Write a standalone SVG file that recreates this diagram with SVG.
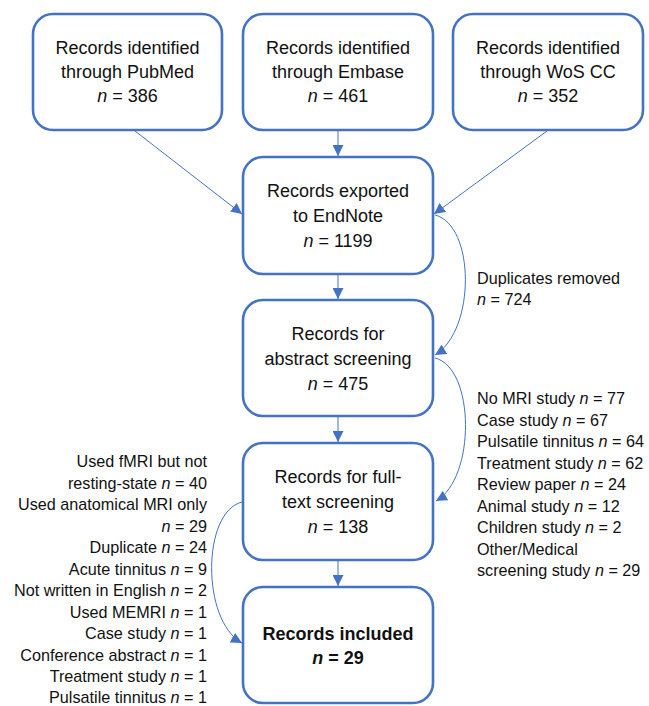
<svg xmlns="http://www.w3.org/2000/svg" width="649" height="706" viewBox="0 0 649 706">
<defs>
<style>
.box{fill:#fff;stroke:#4472C4;stroke-width:2.6}
.t{font-family:"Liberation Sans",Arial,sans-serif;font-size:18px;fill:#111;text-anchor:middle}
.s{font-family:"Liberation Sans",Arial,sans-serif;font-size:16.2px;fill:#111}
.r{text-anchor:end}
.c{fill:none;stroke:#4472C4;stroke-width:1}
</style>
<marker id="ah" viewBox="0 0 10 10" refX="10" refY="5" markerWidth="11" markerHeight="11" markerUnits="userSpaceOnUse" orient="auto">
<path d="M0,0 L10,5 L0,10 z" fill="#4472C4"/>
</marker>
</defs>
<rect width="649" height="706" fill="#fff"/>
<g id="connectors">
<line class="c" x1="135" y1="131" x2="242" y2="214" marker-end="url(#ah)"/>
<line class="c" x1="338" y1="131" x2="338" y2="156" marker-end="url(#ah)"/>
<line class="c" x1="547" y1="131" x2="434" y2="214" marker-end="url(#ah)"/>
<line class="c" x1="338" y1="275" x2="338" y2="299" marker-end="url(#ah)"/>
<line class="c" x1="338" y1="417" x2="338" y2="442" marker-end="url(#ah)"/>
<line class="c" x1="338" y1="561" x2="338" y2="586" marker-end="url(#ah)"/>
<path class="c" d="M435,215 C475,225 476,330 435,355" marker-end="url(#ah)"/>
<path class="c" d="M435,358 C475,368 476,478 436,501" marker-end="url(#ah)"/>
<path class="c" d="M242,502 C202,512 201,620 242,643" marker-end="url(#ah)"/>
</g>
<g id="pubmed">
<rect class="box" x="33" y="14" width="189" height="116" rx="20"/>
<text class="t" x="127.5" y="54">Records identified</text>
<text class="t" x="127.5" y="78">through PubMed</text>
<text class="t" x="127.5" y="102"><tspan font-style="italic">n</tspan> = 386</text>
</g>
<g id="embase">
<rect class="box" x="243" y="14" width="190" height="116" rx="20"/>
<text class="t" x="338" y="54">Records identified</text>
<text class="t" x="338" y="78">through Embase</text>
<text class="t" x="338" y="102"><tspan font-style="italic">n</tspan> = 461</text>
</g>
<g id="wos">
<rect class="box" x="453" y="14" width="190" height="116" rx="20"/>
<text class="t" x="548" y="54">Records identified</text>
<text class="t" x="548" y="78">through WoS CC</text>
<text class="t" x="548" y="102"><tspan font-style="italic">n</tspan> = 352</text>
</g>
<g id="endnote">
<rect class="box" x="243" y="157" width="190" height="117" rx="20"/>
<text class="t" x="338" y="197">Records exported</text>
<text class="t" x="338" y="222">to EndNote</text>
<text class="t" x="338" y="247"><tspan font-style="italic">n</tspan> = 1199</text>
</g>
<g id="abstract">
<rect class="box" x="243" y="300" width="190" height="116" rx="20"/>
<text class="t" x="338" y="340">Records for</text>
<text class="t" x="338" y="365">abstract screening</text>
<text class="t" x="338" y="390"><tspan font-style="italic">n</tspan> = 475</text>
</g>
<g id="fulltext">
<rect class="box" x="243" y="443" width="190" height="117" rx="20"/>
<text class="t" x="338" y="483">Records for full-</text>
<text class="t" x="338" y="508">text screening</text>
<text class="t" x="338" y="533"><tspan font-style="italic">n</tspan> = 138</text>
</g>
<g id="included">
<rect class="box" x="243" y="587" width="190" height="116" rx="20"/>
<text class="t" x="338" y="640" font-weight="bold">Records included</text>
<text class="t" x="338" y="664" font-weight="bold"><tspan font-style="italic">n</tspan> = 29</text>
</g>
<g id="duplicates">
<text class="s" x="477" y="284">Duplicates removed</text>
<text class="s" x="477" y="305"><tspan font-style="italic">n</tspan> = 724</text>
</g>
<g id="abstract-excl">
<text class="s" x="477" y="404">No MRI study <tspan font-style="italic">n</tspan> = 77</text>
<text class="s" x="477" y="425.5">Case study <tspan font-style="italic">n</tspan> = 67</text>
<text class="s" x="477" y="447">Pulsatile tinnitus <tspan font-style="italic">n</tspan> = 64</text>
<text class="s" x="477" y="468.5">Treatment study <tspan font-style="italic">n</tspan> = 62</text>
<text class="s" x="477" y="490">Review paper <tspan font-style="italic">n</tspan> = 24</text>
<text class="s" x="477" y="511.5">Animal study <tspan font-style="italic">n</tspan> = 12</text>
<text class="s" x="477" y="533">Children study <tspan font-style="italic">n</tspan> = 2</text>
<text class="s" x="477" y="554.5">Other/Medical</text>
<text class="s" x="477" y="576">screening study <tspan font-style="italic">n</tspan> = 29</text>
</g>
<g id="fulltext-excl">
<text class="s r" x="207" y="467">Used fMRI but not</text>
<text class="s r" x="207" y="488.5">resting-state <tspan font-style="italic">n</tspan> = 40</text>
<text class="s r" x="207" y="510">Used anatomical MRI only</text>
<text class="s r" x="207" y="531.5"><tspan font-style="italic">n</tspan> = 29</text>
<text class="s r" x="207" y="553">Duplicate <tspan font-style="italic">n</tspan> = 24</text>
<text class="s r" x="207" y="574.5">Acute tinnitus <tspan font-style="italic">n</tspan> = 9</text>
<text class="s r" x="207" y="596">Not written in English <tspan font-style="italic">n</tspan> = 2</text>
<text class="s r" x="207" y="617.5">Used MEMRI <tspan font-style="italic">n</tspan> = 1</text>
<text class="s r" x="207" y="639">Case study <tspan font-style="italic">n</tspan> = 1</text>
<text class="s r" x="207" y="660.5">Conference abstract <tspan font-style="italic">n</tspan> = 1</text>
<text class="s r" x="207" y="682">Treatment study <tspan font-style="italic">n</tspan> = 1</text>
<text class="s r" x="207" y="703">Pulsatile tinnitus <tspan font-style="italic">n</tspan> = 1</text>
</g>
</svg>
